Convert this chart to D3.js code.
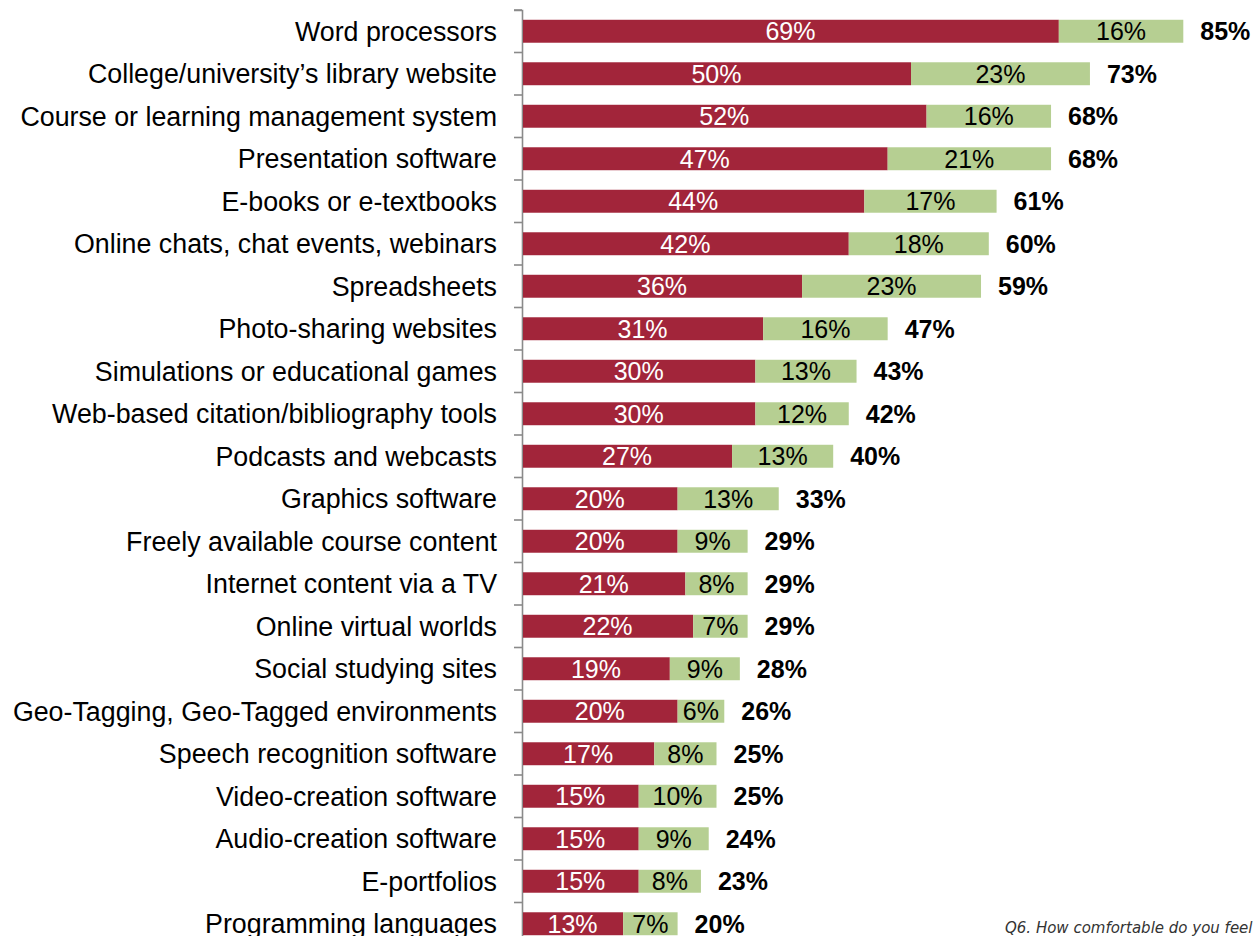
<!DOCTYPE html>
<html>
<head>
<meta charset="utf-8">
<script src="https://cdn.jsdelivr.net/npm/d3@7"></script>
<style>
  html, body { margin: 0; padding: 0; background: #fff; }
  svg { display: block; }
</style>
</head>
<body>
<svg id="chart" width="1256" height="936"></svg>
<script>
// Technologies, in display order (top to bottom)
const categories = [
  "Word processors",
  "College/university\u2019s library website",
  "Course or learning management system",
  "Presentation software",
  "E-books or e-textbooks",
  "Online chats, chat events, webinars",
  "Spreadsheets",
  "Photo-sharing websites",
  "Simulations or educational games",
  "Web-based citation/bibliography tools",
  "Podcasts and webcasts",
  "Graphics software",
  "Freely available course content",
  "Internet content via a TV",
  "Online virtual worlds",
  "Social studying sites",
  "Geo-Tagging, Geo-Tagged environments",
  "Speech recognition software",
  "Video-creation software",
  "Audio-creation software",
  "E-portfolios",
  "Programming languages"
];

// First segment (dark red) and second segment (light green), in percent
const firstValues  = [69, 50, 52, 47, 44, 42, 36, 31, 30, 30, 27, 20, 20, 21, 22, 19, 20, 17, 15, 15, 15, 13];
const secondValues = [16, 23, 16, 21, 17, 18, 23, 16, 13, 12, 13, 13,  9,  8,  7,  9,  6,  8, 10,  9,  8,  7];

const footnote = "Q6. How comfortable do you feel using each of the following technologies?";

const rows = categories.map((c, i) => ({
  cat: c,
  a: firstValues[i],
  b: secondValues[i],
  total: firstValues[i] + secondValues[i]
}));

const svg = d3.select("#chart");
const fontFamily = "'Liberation Sans', Arial, sans-serif";
const red = "#A2253A";
const green = "#B6CF92";

const x = d3.scaleLinear().domain([0, 100]).range([522, 522 + 778]);
const y = d3.scaleBand().domain(categories).range([10, 10 + categories.length * 42.5]).paddingInner(0.46).paddingOuter(0.23);

// Category axis on the left
const axis = d3.axisLeft(y).tickSize(8).tickPadding(17).tickSizeOuter(8);
const gAxis = svg.append("g").attr("transform", "translate(522,0)").call(axis);
gAxis.select(".domain").attr("stroke", "#8a8a8a").attr("stroke-width", 1.6);
gAxis.selectAll(".tick line").remove();
gAxis.selectAll(".tick text")
  .attr("fill", "#000")
  .style("font-family", fontFamily)
  .style("font-size", "26.8px")
  .attr("dy", "0.35em");

// Tick marks sit between categories
const step = y.step();
const boundaries = d3.range(categories.length + 1).map(i => 10 + i * step);
svg.append("g").selectAll("line").data(boundaries).join("line")
  .attr("x1", 514).attr("x2", 522)
  .attr("y1", d => d).attr("y2", d => d)
  .attr("stroke", "#8a8a8a").attr("stroke-width", 1.6);

const bars = svg.append("g");
const row = bars.selectAll("g").data(rows).join("g");

row.append("rect")
  .attr("x", x(0) + 1)
  .attr("y", d => y(d.cat))
  .attr("width", d => x(d.a) - x(0) - 1)
  .attr("height", y.bandwidth())
  .attr("fill", red);

row.append("rect")
  .attr("x", d => x(d.a))
  .attr("y", d => y(d.cat))
  .attr("width", d => x(d.a + d.b) - x(d.a))
  .attr("height", y.bandwidth())
  .attr("fill", green);

const labelStyle = sel => sel
  .attr("dy", "0.36em")
  .style("font-family", fontFamily)
  .style("font-size", "25px");

row.append("text")
  .attr("x", d => (x(0) + x(d.a)) / 2)
  .attr("y", d => y(d.cat) + y.bandwidth() / 2)
  .attr("text-anchor", "middle")
  .attr("fill", "#fff")
  .text(d => d.a + "%")
  .call(labelStyle);

row.append("text")
  .attr("x", d => (x(d.a) + x(d.a + d.b)) / 2)
  .attr("y", d => y(d.cat) + y.bandwidth() / 2)
  .attr("text-anchor", "middle")
  .attr("fill", "#000")
  .text(d => d.b + "%")
  .call(labelStyle);

row.append("text")
  .attr("x", d => x(d.total) + 17)
  .attr("y", d => y(d.cat) + y.bandwidth() / 2)
  .attr("fill", "#000")
  .style("font-weight", "bold")
  .text(d => d.total + "%")
  .call(labelStyle);

svg.append("text")
  .attr("x", 1005)
  .attr("y", 933)
  .attr("fill", "#333")
  .style("font-family", "'DejaVu Sans', sans-serif")
  .style("font-style", "italic")
  .style("font-size", "15px")
  .text(footnote);
</script>
</body>
</html>
